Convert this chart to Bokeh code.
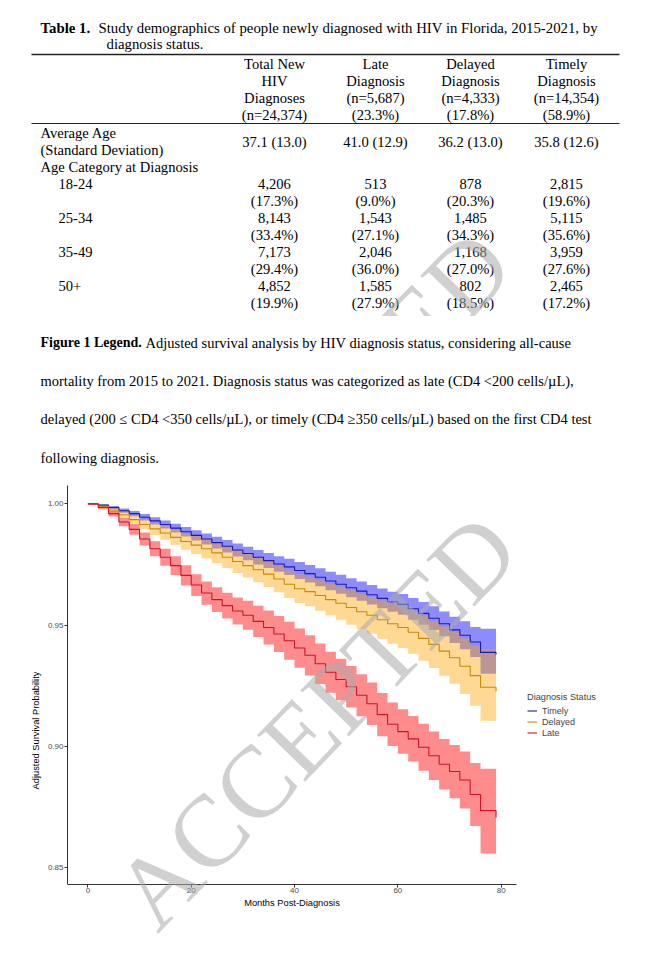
from bokeh.plotting import figure
from bokeh.models import Range1d, Label, Legend, LegendItem, FixedTicker, NumeralTickFormatter
from bokeh.layouts import column
from bokeh.embed import file_html
from bokeh.resources import INLINE
from bokeh.core.properties import value

# ---------------- Table data ----------------
table_title = "Study demographics of people newly diagnosed with HIV in Florida, 2015-2021, by"
table_title2 = "diagnosis status."
col_headers = [
    ["Total New", "HIV", "Diagnoses", "(n=24,374)"],
    ["Late", "Diagnosis", "(n=5,687)", "(23.3%)"],
    ["Delayed", "Diagnosis", "(n=4,333)", "(17.8%)"],
    ["Timely", "Diagnosis", "(n=14,354)", "(58.9%)"],
]
avg_age = ["37.1 (13.0)", "41.0 (12.9)", "36.2 (13.0)", "35.8 (12.6)"]
age_groups = ["18-24", "25-34", "35-49", "50+"]
age_counts = [
    [4206, 513, 878, 2815],
    [8143, 1543, 1485, 5115],
    [7173, 2046, 1168, 3959],
    [4852, 1585, 802, 2465],
]
age_pcts = [
    [17.3, 9.0, 20.3, 19.6],
    [33.4, 27.1, 34.3, 35.6],
    [29.4, 36.0, 27.0, 27.6],
    [19.9, 27.9, 18.5, 17.2],
]

para_bold = "Figure 1 Legend."
para_lines = [
    "Adjusted survival analysis by HIV diagnosis status, considering all-cause",
    "mortality from 2015 to 2021. Diagnosis status was categorized as late (CD4 <200 cells/\u00b5L),",
    "delayed (200 \u2264 CD4 <350 cells/\u00b5L), or timely (CD4 \u2265350 cells/\u00b5L) based on the first CD4 test",
    "following diagnosis.",
]

# ---------------- Survival data ----------------
months = [0, 2, 4, 6, 8, 10, 12, 14, 16, 18, 20, 22, 24, 26, 28, 30, 32, 34, 36, 38,
          40, 42, 44, 46, 48, 50, 52, 54, 56, 58, 60, 62, 64, 66, 68, 70, 72, 74, 76, 78, 79]

timely = [1.0000, 0.9995, 0.9985, 0.9972, 0.9960, 0.9945, 0.9930, 0.9915, 0.9900, 0.9885,
          0.9870, 0.9855, 0.9840, 0.9825, 0.9810, 0.9795, 0.9780, 0.9766, 0.9752, 0.9740,
          0.9725, 0.9712, 0.9697, 0.9682, 0.9668, 0.9654, 0.9640, 0.9625, 0.9610, 0.9596,
          0.9585, 0.9567, 0.9548, 0.9528, 0.9505, 0.9480, 0.9458, 0.9430, 0.9387, 0.9387, 0.9378]
timely_lo = [1.0000, 0.9992, 0.9979, 0.9963, 0.9949, 0.9932, 0.9915, 0.9898, 0.9882, 0.9865,
             0.9849, 0.9832, 0.9816, 0.9799, 0.9783, 0.9767, 0.9750, 0.9735, 0.9720, 0.9706,
             0.9690, 0.9676, 0.9660, 0.9644, 0.9629, 0.9615, 0.9600, 0.9585, 0.9569, 0.9555,
             0.9542, 0.9522, 0.9501, 0.9479, 0.9454, 0.9426, 0.9400, 0.9368, 0.9299, 0.9299, 0.9299]
timely_hi = [1.0000, 0.9998, 0.9991, 0.9981, 0.9971, 0.9958, 0.9945, 0.9932, 0.9918, 0.9905,
             0.9891, 0.9878, 0.9864, 0.9851, 0.9837, 0.9823, 0.9810, 0.9797, 0.9784, 0.9774,
             0.9760, 0.9748, 0.9734, 0.9720, 0.9707, 0.9693, 0.9680, 0.9665, 0.9651, 0.9637,
             0.9628, 0.9612, 0.9595, 0.9577, 0.9556, 0.9534, 0.9516, 0.9492, 0.9485, 0.9485, 0.9485]

delayed = [1.0000, 0.9990, 0.9975, 0.9955, 0.9935, 0.9915, 0.9897, 0.9880, 0.9862, 0.9845,
           0.9830, 0.9815, 0.9798, 0.9780, 0.9762, 0.9745, 0.9728, 0.9710, 0.9690, 0.9668,
           0.9650, 0.9638, 0.9622, 0.9605, 0.9590, 0.9572, 0.9555, 0.9540, 0.9522, 0.9505,
           0.9490, 0.9470, 0.9445, 0.9420, 0.9392, 0.9365, 0.9330, 0.9291, 0.9243, 0.9243, 0.9226]
delayed_lo = [1.0000, 0.9985, 0.9966, 0.9942, 0.9918, 0.9894, 0.9872, 0.9852, 0.9831, 0.9811,
              0.9793, 0.9775, 0.9756, 0.9735, 0.9715, 0.9696, 0.9677, 0.9657, 0.9635, 0.9611,
              0.9591, 0.9577, 0.9559, 0.9539, 0.9522, 0.9501, 0.9482, 0.9464, 0.9443, 0.9423,
              0.9405, 0.9381, 0.9352, 0.9323, 0.9290, 0.9257, 0.9215, 0.9167, 0.9105, 0.9105, 0.9105]
delayed_hi = [1.0000, 0.9995, 0.9984, 0.9968, 0.9952, 0.9936, 0.9922, 0.9908, 0.9893, 0.9879,
              0.9867, 0.9855, 0.9840, 0.9825, 0.9809, 0.9794, 0.9779, 0.9763, 0.9745, 0.9725,
              0.9709, 0.9699, 0.9685, 0.9671, 0.9658, 0.9643, 0.9628, 0.9616, 0.9601, 0.9587,
              0.9575, 0.9559, 0.9538, 0.9517, 0.9494, 0.9473, 0.9445, 0.9415, 0.9400, 0.9400, 0.9400]

late = [1.0000, 0.9985, 0.9960, 0.9925, 0.9895, 0.9855, 0.9815, 0.9780, 0.9745, 0.9705,
        0.9665, 0.9632, 0.9605, 0.9580, 0.9558, 0.9540, 0.9515, 0.9490, 0.9463, 0.9435,
        0.9405, 0.9375, 0.9340, 0.9305, 0.9275, 0.9245, 0.9210, 0.9175, 0.9130, 0.9090,
        0.9060, 0.9030, 0.8995, 0.8960, 0.8925, 0.8895, 0.8860, 0.8800, 0.8734, 0.8734, 0.8705]
late_lo = [1.0000, 0.9978, 0.9948, 0.9908, 0.9873, 0.9828, 0.9784, 0.9745, 0.9706, 0.9663,
           0.9620, 0.9584, 0.9554, 0.9527, 0.9502, 0.9480, 0.9450, 0.9420, 0.9389, 0.9357,
           0.9324, 0.9292, 0.9256, 0.9220, 0.9189, 0.9159, 0.9123, 0.9087, 0.9041, 0.9000,
           0.8968, 0.8936, 0.8898, 0.8860, 0.8821, 0.8785, 0.8742, 0.8670, 0.8557, 0.8557, 0.8557]
late_hi = [1.0000, 0.9992, 0.9972, 0.9942, 0.9917, 0.9882, 0.9846, 0.9815, 0.9784, 0.9747,
           0.9710, 0.9680, 0.9656, 0.9633, 0.9614, 0.9600, 0.9580, 0.9560, 0.9537, 0.9513,
           0.9486, 0.9458, 0.9424, 0.9390, 0.9361, 0.9331, 0.9297, 0.9263, 0.9219, 0.9180,
           0.9152, 0.9124, 0.9092, 0.9060, 0.9029, 0.9005, 0.8978, 0.8930, 0.8907, 0.8907, 0.8907]

series_names = ["Timely", "Delayed", "Late"]
x_ticks = [0, 20, 40, 60, 80]
y_ticks = [0.85, 0.90, 0.95, 1.00]

SERIF = "Liberation Serif"
SANS = "Liberation Sans"
WM_COLOR = "#a9a9ab"
WM_ALPHA = 0.55
WM_ANGLE = 46
PAGE_W = 652
TXT = "14.6px"


def bare(fig):
    fig.grid.visible = False
    fig.outline_line_color = None
    fig.background_fill_color = "white"
    fig.border_fill_color = "white"


def txt(fig, xs, ys, texts, align="left", bold=False, size=TXT):
    fig.text(x=xs, y=[-y for y in ys], text=texts,
             text_font=value(SERIF), text_font_size=value(size),
             text_align=align, text_baseline="middle", text_color="black",
             text_font_style="bold" if bold else "normal")


# ---------------- Table figure (page y 0..316) ----------------
t = figure(width=PAGE_W, height=316, x_range=Range1d(0, PAGE_W), y_range=Range1d(-316, 0),
           output_backend="svg", toolbar_location=None,
           x_axis_location=None, y_axis_location=None,
           min_border_left=0, min_border_right=0, min_border_top=0, min_border_bottom=0)
bare(t)

txt(t, [40], [27], ["Table 1."], bold=True, size="14.8px")
txt(t, [98], [27], [table_title], size="14.8px")
txt(t, [106], [43], [table_title2], size="14.8px")
t.segment(x0=[31], y0=[-54], x1=[619], y1=[-54], line_color="#222222", line_width=1.5)
t.segment(x0=[31], y0=[-123], x1=[619], y1=[-123], line_color="#222222", line_width=1)

col_x = [274, 375, 470, 566]
head_y = [63, 80, 97, 114]
for cx, lines in zip(col_x, col_headers):
    txt(t, [cx] * len(lines), head_y[:len(lines)], lines, align="center")

txt(t, [40, 40, 40], [132, 149, 166], ["Average Age", "(Standard Deviation)", "Age Category at Diagnosis"])
txt(t, col_x, [141] * 4, avg_age, align="center")

group_y = [183, 217, 251, 285]
txt(t, [58] * 4, group_y, age_groups)
for gy, counts, pcts in zip(group_y, age_counts, age_pcts):
    txt(t, col_x, [gy] * 4, [f"{c:,}" for c in counts], align="center")
    txt(t, col_x, [gy + 17] * 4, [f"({v:.1f}%)" for v in pcts], align="center")

t.add_layout(Label(x=126, y=-626, text="ACCEPTED", angle=WM_ANGLE, angle_units="deg",
                   text_font=SERIF, text_font_size="102px", text_color=WM_COLOR,
                   text_alpha=WM_ALPHA, text_baseline="alphabetic", text_align="left"))

# ---------------- Paragraph figure (page y 316..470) ----------------
g = figure(width=PAGE_W, height=154, x_range=Range1d(0, PAGE_W), y_range=Range1d(-470, -316),
           output_backend="svg", toolbar_location=None,
           x_axis_location=None, y_axis_location=None,
           min_border_left=0, min_border_right=0, min_border_top=0, min_border_bottom=0)
bare(g)
para_y = [342, 380, 418, 457]
txt(g, [40], [para_y[0]], [para_bold], bold=True, size="14px")
txt(g, [145, 40, 40, 40], para_y, para_lines, size="14.5px")

# ---------------- Chart figure (page y 470..975) ----------------
# frame: x 67..652, y 485..975; the axes are limited to the data panel (y down to 0.8429)
Y_BOTTOM = 0.8429
p = figure(width=PAGE_W, height=505, x_range=Range1d(-3.95, 109.29), y_range=Range1d(0.80529, 1.0076),
           output_backend="svg", toolbar_location=None,
           min_border_left=67, min_border_right=0, min_border_top=15, min_border_bottom=0)
bare(p)

bands = [(timely_lo, timely_hi, "blue", 0.45),
         (delayed_lo, delayed_hi, "orange", 0.42),
         (late_lo, late_hi, "red", 0.45)]
for lo, hi, col, a in bands:
    p.varea_step(x=months, y1=lo, y2=hi, step_mode="after", fill_color=col, fill_alpha=a)

line_specs = [(timely, "#1c1c9c"), (delayed, "#c8880c"), (late, "#c8142e")]
renderers = []
for ys, col in line_specs:
    renderers.append(p.step(x=months, y=ys, mode="after", line_color=col, line_width=1.1))

p.xaxis.ticker = FixedTicker(ticks=x_ticks)
p.yaxis.ticker = FixedTicker(ticks=y_ticks)
p.yaxis.formatter = NumeralTickFormatter(format="0.00")
p.xaxis.bounds = (-3.95, 82.95)
p.yaxis.bounds = (Y_BOTTOM, 1.0076)
p.xaxis.fixed_location = Y_BOTTOM
p.xaxis.axis_label = "Months Post-Diagnosis"
p.yaxis.axis_label = "Adjusted Survival Probability"
for ax in (p.xaxis[0], p.yaxis[0]):
    ax.axis_line_color = "#333333"
    ax.axis_line_width = 1
    ax.major_tick_line_color = "#333333"
    ax.major_tick_in = 0
    ax.major_tick_out = 3
    ax.minor_tick_line_color = None
    ax.major_label_text_font = SANS
    ax.major_label_text_font_size = "8px"
    ax.major_label_text_color = "#4D4D4D"
    ax.major_label_standoff = 1
    ax.axis_label_text_font = SANS
    ax.axis_label_text_font_size = "9.3px"
    ax.axis_label_text_font_style = "normal"
    ax.axis_label_text_color = "black"
p.xaxis.axis_label_standoff = 1
p.yaxis.axis_label_standoff = 4

legend = Legend(
    items=[LegendItem(label=n, renderers=[r]) for n, r in zip(series_names, renderers)],
    location=(460, 237), title="Diagnosis Status",
    title_text_font=SANS, title_text_font_size="9.2px", title_text_font_style="normal",
    title_standoff=3,
    label_text_font=SANS, label_text_font_size="9px", label_standoff=5,
    label_height=11, glyph_height=11, glyph_width=10, spacing=0,
    padding=0, margin=0, border_line_color=None, background_fill_alpha=0,
)
p.add_layout(legend)

p.add_layout(Label(x=8.65, y=0.8321, text="ACCEPTED", angle=WM_ANGLE, angle_units="deg",
                   text_font=SERIF, text_font_size="102px", text_color=WM_COLOR,
                   text_alpha=WM_ALPHA, text_baseline="alphabetic", text_align="left"))

top = column(t, g, spacing=0)
open("out.html", "w").write(file_html([top, p], INLINE))
